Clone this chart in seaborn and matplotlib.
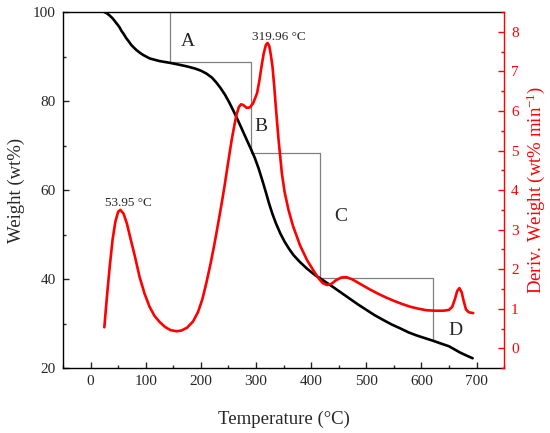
"""
TG / DTG 曲线：失重（左轴）+ 微分失重（右轴），四个失重阶段 A-D
输出：out.png
"""
import numpy as np
import pandas as pd
import matplotlib
matplotlib.use("Agg")
import matplotlib.pyplot as plt
from matplotlib.ticker import MultipleLocator
import seaborn as sns

# =============================================
# 1. 数据
# =============================================
tg_temp = [25, 30, 35, 40, 47, 52, 56, 60, 65, 70, 74, 78, 83, 88, 95, 107,
           125, 144, 160, 175, 190, 200, 210, 220, 228, 236, 244, 252, 260,
           268, 276, 284, 291, 298, 305, 312, 318, 324, 330, 336, 344, 352,
           360, 368, 380, 393, 407, 416, 428, 440, 455, 470, 485, 500, 515,
           531, 546, 562, 577, 592, 607, 622, 638, 650, 660, 670, 682, 693]
tg_weight = [100.0, 99.7, 99.2, 98.6, 97.5, 96.7, 95.8, 95.1, 94.1, 93.3, 92.6,
             92.1, 91.5, 91.0, 90.4, 89.6, 89.0, 88.6, 88.2, 87.8, 87.3, 86.85,
             86.2, 85.3, 84.2, 82.9, 81.4, 79.6, 77.6, 75.5, 73.3, 71.1, 69.2,
             67.2, 64.8, 62.0, 59.5, 56.9, 54.6, 52.6, 50.3, 48.4, 46.8, 45.4,
             43.8, 42.3, 40.9, 40.2, 39.2, 38.2, 36.9, 35.6, 34.3, 33.1, 31.9,
             30.8, 29.8, 28.9, 28.0, 27.3, 26.7, 26.1, 25.4, 24.9, 24.2, 23.5,
             22.8, 22.2]

dtg_temp = [25, 30, 35, 40, 45, 50, 54, 60, 66, 72, 80, 89, 98, 107, 116, 125,
            135, 145, 156, 165, 175, 186, 195, 203, 210, 218, 225, 232, 238,
            243, 247, 252, 256, 261, 265, 269, 273, 277, 283, 289, 295, 302,
            306, 310, 314, 318, 321, 324, 327, 330, 333, 336, 339, 341, 344,
            347, 352, 359, 367, 380, 393, 405, 413, 421, 429, 437, 445, 455,
            464, 475, 490, 505, 520, 535, 550, 565, 580, 595, 610, 625, 640,
            650, 656, 661, 665, 669, 673, 677, 681, 686, 694]
dtg_deriv = [0.53, 1.35, 2.1, 2.75, 3.2, 3.45, 3.5, 3.4, 3.15, 2.8, 2.35, 1.8,
             1.38, 1.05, 0.82, 0.67, 0.54, 0.46, 0.43, 0.45, 0.52, 0.68, 0.92,
             1.25, 1.65, 2.16, 2.66, 3.2, 3.68, 4.1, 4.47, 4.92, 5.27, 5.65, 5.92,
             6.1, 6.17, 6.15, 6.08, 6.09, 6.2, 6.45, 6.75, 7.12, 7.45, 7.67,
             7.72, 7.65, 7.42, 7.12, 6.65, 6.11, 5.6, 5.27, 4.85, 4.42, 3.95,
             3.5, 3.1, 2.6, 2.22, 1.95, 1.78, 1.65, 1.6, 1.63, 1.72, 1.79, 1.8,
             1.74, 1.62, 1.5, 1.39, 1.29, 1.2, 1.12, 1.05, 1.0, 0.96, 0.95,
             0.95, 0.97, 1.05, 1.25, 1.45, 1.52, 1.42, 1.18, 0.98, 0.91, 0.89]

# 阶段分界（台阶线的拐点）
step_temp = [144, 291, 416, 622]
step_weight = [88.8, 68.4, 40.2, 26.3]

# 阶段标签
stage_names = ["A", "B", "C", "D"]
stage_temp = [177, 309, 453, 662]
stage_weight = [93.3, 74.4, 54.0, 28.5]

# 峰值标注
peak_temp = [53.95, 319.96]
peak_labels = ["53.95 °C", "319.96 °C"]

x_ticks = [0, 100, 200, 300, 400, 500, 600, 700]
y_ticks = [20, 40, 60, 80, 100]
y2_ticks = [0, 1, 2, 3, 4, 5, 6, 7, 8]

tg = pd.DataFrame({"temp": tg_temp, "weight": tg_weight})
dtg = pd.DataFrame({"temp": dtg_temp, "deriv": dtg_deriv})

# =============================================
# 2. 样式
# =============================================
sns.set_theme(style="ticks", rc={
    "xtick.direction": "in", "ytick.direction": "in",
    "xtick.major.size": 4.5, "ytick.major.size": 4.5,
    "xtick.minor.size": 2.5, "ytick.minor.size": 2.5,
    "xtick.major.width": 1.0, "ytick.major.width": 1.0,
    "xtick.minor.width": 1.0, "ytick.minor.width": 1.0,
    "axes.linewidth": 1.0, "axes.edgecolor": "black",
})
plt.rcParams['font.family'] = ['Liberation Serif', 'DejaVu Serif']
plt.rcParams['mathtext.fontset'] = 'custom'
plt.rcParams['mathtext.rm'] = 'Liberation Serif'
plt.rcParams['mathtext.default'] = 'regular'

RED = "#FF0000"

fig = plt.figure(figsize=(5.5, 4.33), dpi=100)
ax = fig.add_axes([0.1145, 0.150, 0.802, 0.822])
ax2 = ax.twinx()

# =============================================
# 3. 画曲线
# =============================================
sns.lineplot(data=tg, x="temp", y="weight", ax=ax, color="black",
             linewidth=1.9, sort=False, estimator=None)
sns.lineplot(data=dtg, x="temp", y="deriv", ax=ax2, color=RED,
             linewidth=1.9, sort=False, estimator=None)

# 台阶线
ax.set_ylim(20, 100)
xs, ys = [step_temp[0]], [ax.get_ylim()[1]]
for i, (t, w) in enumerate(zip(step_temp, step_weight)):
    xs.append(t)
    ys.append(w)
    if i + 1 < len(step_temp):
        xs.append(step_temp[i + 1])
        ys.append(w)
ax.plot(xs, ys, color="#808080", linewidth=0.9, zorder=1)

for name, t, w in zip(stage_names, stage_temp, stage_weight):
    ax.text(t, w, name, fontsize=14, ha="center", va="center")

for lab, t in zip(peak_labels, peak_temp):
    d = np.interp(t, dtg_temp, dtg_deriv)
    ax2.text(t - 27, d + 0.1, lab, fontsize=9.5, ha="left", va="baseline")

# =============================================
# 4. 坐标轴
# =============================================
ax.set_xlim(-50, 750)
ax.set_xticks(x_ticks)
ax.set_yticks(y_ticks)
ax.xaxis.set_minor_locator(MultipleLocator(50))
ax.yaxis.set_minor_locator(MultipleLocator(10))
ax.tick_params(labelsize=11, pad=5)
ax.set_xlabel("Temperature (°C)", fontsize=13.5, labelpad=16)
ax.set_ylabel("Weight (wt%)", fontsize=13.5, labelpad=6)
ax.spines["right"].set_visible(False)

ax2.set_ylim(-0.5, 8.5)
ax2.set_yticks(y2_ticks)
ax2.yaxis.set_minor_locator(MultipleLocator(0.5))
ax2.tick_params(axis="y", which="both", colors=RED, labelsize=11, pad=5)
ax2.set_ylabel("Deriv. Weight (wt% min$^{-1}$)", fontsize=13.5, color=RED,
               labelpad=4)
for s in ["left", "top", "bottom"]:
    ax2.spines[s].set_visible(False)
ax2.spines["right"].set_color(RED)
ax2.spines["right"].set_visible(True)

fig.savefig("out.png", dpi=100)
plt.close(fig)
